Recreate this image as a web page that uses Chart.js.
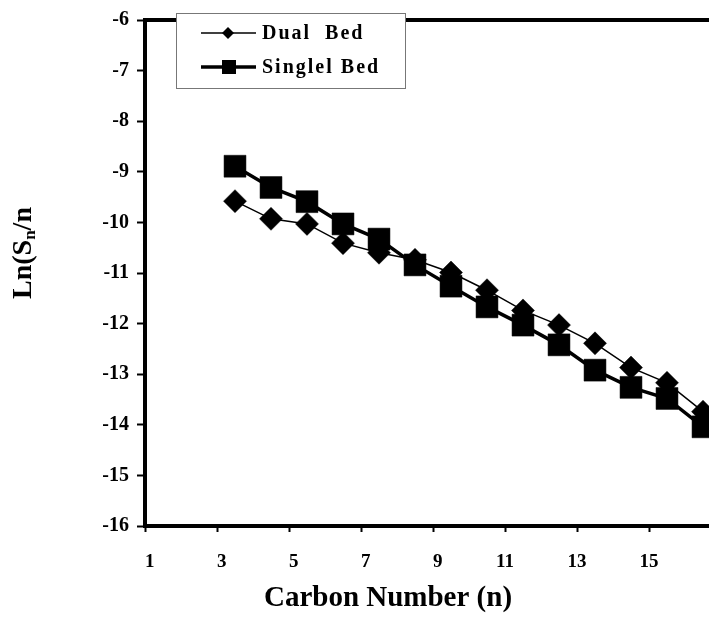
<!DOCTYPE html>
<html>
<head>
<meta charset="utf-8">
<script src="https://cdn.jsdelivr.net/npm/chart.js@4.4.1/dist/chart.umd.min.js"></script>
<style>
    html, body { margin: 0; padding: 0; background: #fff; overflow: hidden; }
    #wrap { position: relative; width: 740px; height: 618px; }
</style>
</head>
<body>
<div id="wrap"><canvas id="chart"></canvas></div>
<script>
// carbon number positions and ln(Sn/n) values
const carbonNumbers = [3.5, 4.5, 5.5, 6.5, 7.5, 8.5, 9.5, 10.5, 11.5, 12.5, 13.5, 14.5, 15.5, 16.5];
const dualBed = [-9.58, -9.93, -10.03, -10.41, -10.60, -10.74, -10.99, -11.34, -11.74, -12.03, -12.39, -12.87, -13.17, -13.74];
const singleBed = [-8.89, -9.31, -9.59, -10.03, -10.33, -10.84, -11.26, -11.67, -12.03, -12.42, -12.92, -13.26, -13.48, -14.04];
const seriesLabels = ['Dual  Bed', 'Singlel Bed'];
const xTitle = 'Carbon Number (n)';

const SERIF = "'Liberation Serif', 'Times New Roman', serif";

const toPoints = (ys) => carbonNumbers.map((x, i) => ({ x: x, y: ys[i] }));

// frame, axis titles and the boxed legend
const decorPlugin = {
    id: 'decor',
    afterDraw(chart) {
        const ctx = chart.ctx;
        const area = chart.chartArea;
        ctx.save();

        // top and right frame lines
        ctx.strokeStyle = '#000';
        ctx.lineWidth = 4;
        ctx.beginPath();
        ctx.moveTo(area.left - 2, area.top);
        ctx.lineTo(area.right, area.top);
        ctx.lineTo(area.right, area.bottom);
        ctx.stroke();

        // x title
        ctx.fillStyle = '#000';
        ctx.font = 'bold 29px ' + SERIF;
        ctx.textAlign = 'center';
        ctx.textBaseline = 'middle';
        ctx.fillText(xTitle, 388, 599);

        // y title with subscript
        ctx.save();
        ctx.translate(24, 253);
        ctx.rotate(-Math.PI / 2);
        ctx.textAlign = 'left';
        ctx.textBaseline = 'middle';
        const big = 'bold 28px ' + SERIF;
        const small = 'bold 17px ' + SERIF;
        ctx.font = big;
        const w1 = ctx.measureText('Ln(S').width;
        const w3 = ctx.measureText('/n').width;
        ctx.font = small;
        const w2 = ctx.measureText('n').width;
        let x0 = -(w1 + w2 + w3) / 2;
        ctx.font = big;
        ctx.fillText('Ln(S', x0, 0);
        ctx.font = small;
        ctx.fillText('n', x0 + w1, 7);
        ctx.font = big;
        ctx.fillText('/n', x0 + w1 + w2, 0);
        ctx.restore();

        // legend box
        ctx.fillStyle = '#fff';
        ctx.fillRect(176, 13, 229, 75);
        ctx.strokeStyle = '#777';
        ctx.lineWidth = 1;
        ctx.strokeRect(176.5, 13.5, 229, 75);

        const rows = [33, 67];
        chart.data.datasets.forEach((ds, i) => {
            const y = rows[i];
            ctx.strokeStyle = '#000';
            ctx.lineWidth = i === 0 ? 1.5 : 3.5;
            ctx.beginPath();
            ctx.moveTo(201, y);
            ctx.lineTo(256, y);
            ctx.stroke();
            ctx.fillStyle = '#000';
            if (i === 0) {
                ctx.beginPath();
                ctx.moveTo(228 - 6, y);
                ctx.lineTo(228, y - 6);
                ctx.lineTo(228 + 6, y);
                ctx.lineTo(228, y + 6);
                ctx.closePath();
                ctx.fill();
            } else {
                ctx.fillRect(229 - 7, y - 7, 14, 14);
            }
            ctx.font = 'bold 20px ' + SERIF;
            ctx.textAlign = 'left';
            ctx.textBaseline = 'middle';
            if ('letterSpacing' in ctx) ctx.letterSpacing = '2px';
            ctx.fillText(ds.label, 262, y + 1);
            if ('letterSpacing' in ctx) ctx.letterSpacing = '0px';
        });

        ctx.restore();
    }
};

new Chart(document.getElementById('chart'), {
    type: 'scatter',
    data: {
        datasets: [
            {
                label: seriesLabels[0],
                data: toPoints(dualBed),
                showLine: true,
                borderColor: '#000',
                backgroundColor: '#000',
                borderWidth: 1.5,
                pointStyle: 'rectRot',
                pointRadius: 11.5,
                pointHoverRadius: 11.5,
                pointBorderWidth: 0.5,
                pointBackgroundColor: '#000',
                pointBorderColor: '#000'
            },
            {
                label: seriesLabels[1],
                data: toPoints(singleBed),
                showLine: true,
                borderColor: '#000',
                backgroundColor: '#000',
                borderWidth: 3.5,
                pointStyle: 'rect',
                pointRadius: 15.5,
                pointHoverRadius: 15.5,
                pointBorderWidth: 0.5,
                pointBackgroundColor: '#000',
                pointBorderColor: '#000'
            }
        ]
    },
    options: {
        responsive: true,
        maintainAspectRatio: false,
        animation: false,
        layout: {
            padding: { top: 20, right: 19, left: 0, bottom: 0 }
        },
        plugins: {
            legend: { display: false },
            tooltip: { enabled: false }
        },
        scales: {
            x: {
                type: 'linear',
                min: 1,
                max: 17,
                afterFit: (scale) => { scale.height = 92; },
                ticks: {
                    stepSize: 2,
                    color: '#000',
                    padding: 19,
                    maxRotation: 0,
                    font: { family: SERIF, size: 19, weight: 'bold' },
                    // the last tick sits past the cropped right edge, so leave it unlabelled
                    callback: (value) => value >= 17 ? '' : (value < 10 ? '\u2007' : '') + value
                },
                grid: {
                    display: true,
                    drawOnChartArea: false,
                    drawTicks: true,
                    tickLength: 6,
                    tickWidth: 2,
                    color: '#000'
                },
                border: { display: true, color: '#000', width: 4 }
            },
            y: {
                min: -16,
                max: -6,
                afterFit: (scale) => { scale.width = 145; },
                ticks: {
                    stepSize: 1,
                    color: '#000',
                    padding: 8,
                    font: { family: SERIF, size: 20, weight: 'bold' }
                },
                grid: {
                    display: true,
                    drawOnChartArea: false,
                    drawTicks: true,
                    tickLength: 8,
                    tickWidth: 2,
                    color: '#000'
                },
                border: { display: true, color: '#000', width: 4 }
            }
        }
    },
    plugins: [decorPlugin]
});
</script>
</body>
</html>
